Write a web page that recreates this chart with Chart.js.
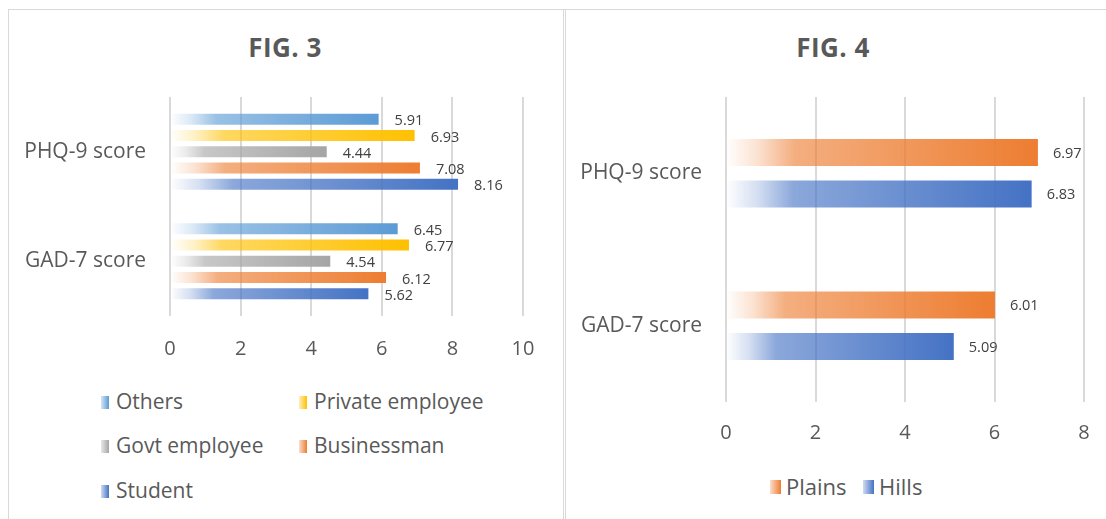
<!DOCTYPE html>
<html>
<head>
<meta charset="utf-8">
<script src="https://cdn.jsdelivr.net/npm/chart.js@4.4.1/dist/chart.umd.min.js"></script>
<style>
  html, body { margin:0; padding:0; background:#fff; }
  body { width:1106px; height:519px; position:relative; overflow:hidden; font-family:"Open Sans", sans-serif; }
  .frame { position:absolute; background:#d9d9d9; }
  .title { position:absolute; font-family:"Open Sans", sans-serif; font-weight:700; font-size:26px; color:#595959; letter-spacing:0.5px; text-align:center; line-height:30px; }
  .cv { position:absolute; }
  .leg { position:absolute; color:#595959; line-height:24px; white-space:nowrap; }
  .leg i { position:absolute; }
</style>
</head>
<body>
<div class="frame" style="left:8px; top:9px; width:1098px; height:1px;"></div>
<div class="frame" style="left:8px; top:9px; width:1px; height:510px;"></div>
<div class="frame" style="left:563px; top:9px; width:1px; height:510px;"></div>
<div class="frame" style="left:565px; top:9px; width:1px; height:510px;"></div>

<div class="title" style="left:185px; top:32px; width:200px;">FIG. 3</div>
<div class="title" style="left:733px; top:32px; width:200px;">FIG. 4</div>

<div class="cv" style="left:0px; top:0px; width:564px; height:376px;"><canvas id="c1"></canvas></div>
<div class="cv" style="left:564px; top:0px; width:542px; height:462px;"><canvas id="c2"></canvas></div>

<div id="leg1"></div>
<div id="leg2"></div>

<script>
// ---------- data ----------
const categories = ["PHQ-9 score", "GAD-7 score"];

const fig3Series = ["Others", "Private employee", "Govt employee", "Businessman", "Student"];
const others = [5.91, 6.45];
const privateEmployee = [6.93, 6.77];
const govtEmployee = [4.44, 4.54];
const businessman = [7.08, 6.12];
const student = [8.16, 5.62];
const fig3Ticks = [0, 2, 4, 6, 8, 10];

const fig4Series = ["Plains", "Hills"];
const plains = [6.97, 6.01];
const hills = [6.83, 5.09];
const fig4Ticks = [0, 2, 4, 6, 8];

// ---------- styling helpers ----------
const COL = {
  blueLight: "#5B9BD5", gold: "#FFC000", gray: "#A5A5A5", orange: "#ED7D31", blue: "#4472C4"
};
function rgba(hex, a) {
  const n = parseInt(hex.slice(1), 16);
  return `rgba(${(n >> 16) & 255},${(n >> 8) & 255},${n & 255},${a})`;
}
function gradFill(hex) {
  return (ctx) => {
    const chart = ctx.chart;
    if (!chart.chartArea || ctx.type !== 'data') return hex;
    const xs = chart.scales.x;
    const x0 = xs.getPixelForValue(0);
    const x1 = xs.getPixelForValue(ctx.raw);
    if (!isFinite(x0) || !isFinite(x1) || x1 - x0 < 1) return hex;
    const g = chart.ctx.createLinearGradient(x0, 0, x1, 0);
    g.addColorStop(0, rgba(hex, 0.0));
    g.addColorStop(0.1, rgba(hex, 0.22));
    g.addColorStop(0.22, rgba(hex, 0.62));
    g.addColorStop(1, rgba(hex, 1));
    return g;
  };
}
function makeDataset(label, data, hex, cp, bp) {
  return {
    label, data,
    backgroundColor: gradFill(hex),
    borderWidth: 0,
    categoryPercentage: cp,
    barPercentage: bp
  };
}

const valueLabels = {
  id: 'valueLabels',
  afterDatasetsDraw(chart, args, opts) {
    const ctx = chart.ctx;
    ctx.save();
    ctx.font = opts.font;
    ctx.fillStyle = opts.color;
    ctx.textAlign = 'left';
    ctx.textBaseline = 'middle';
    chart.data.datasets.forEach((ds, i) => {
      const meta = chart.getDatasetMeta(i);
      meta.data.forEach((bar, j) => {
        ctx.fillText(ds.data[j].toFixed(2), bar.x + opts.offset, bar.y + opts.dy);
      });
    });
    ctx.restore();
  }
};

function baseOptions(ticks, yWidth, xHeight, tickLen, padRight, padTop, labelPad) {
  return {
    indexAxis: 'y',
    responsive: true,
    maintainAspectRatio: false,
    animation: false,
    events: [],
    layout: { padding: { left: 0, right: padRight, top: padTop, bottom: 0 } },
    plugins: {
      legend: { display: false },
      title: { display: false },
      tooltip: { enabled: false }
    },
    scales: {
      x: {
        min: ticks[0], max: ticks[ticks.length - 1],
        afterBuildTicks: (s) => { s.ticks = ticks.map(v => ({ value: v })); },
        afterFit: (s) => { s.height = xHeight; },
        border: { display: false },
        grid: { color: '#d9d9d9', lineWidth: 2, drawTicks: true, tickLength: tickLen, tickColor: 'rgba(0,0,0,0)' },
        ticks: { padding: 2, color: '#595959', font: { family: 'Open Sans', size: 20 } }
      },
      y: {
        afterFit: (s) => { s.width = yWidth; },
        border: { display: false },
        grid: { display: false, drawTicks: false },
        ticks: { padding: labelPad, color: '#595959', font: { family: 'Open Sans', size: 21 } }
      }
    }
  };
}

// ---------- FIG. 3 ----------
const o1 = baseOptions(fig3Ticks, 170, 60, 19, 41, 97, 24);
o1.plugins.valueLabels = { font: '14.5px "Open Sans"', color: '#404040', offset: 16, dy: 2 };
new Chart(document.getElementById('c1'), {
  type: 'bar',
  data: {
    labels: categories,
    datasets: [
      makeDataset(fig3Series[0], others, COL.blueLight, 0.74, 0.68),
      makeDataset(fig3Series[1], privateEmployee, COL.gold, 0.74, 0.68),
      makeDataset(fig3Series[2], govtEmployee, COL.gray, 0.74, 0.68),
      makeDataset(fig3Series[3], businessman, COL.orange, 0.74, 0.68),
      makeDataset(fig3Series[4], student, COL.blue, 0.74, 0.68)
    ]
  },
  options: o1,
  plugins: [valueLabels]
});

// ---------- FIG. 4 ----------
const o2 = baseOptions(fig4Ticks, 162, 60, 17, 22, 97, 24);
o2.plugins.valueLabels = { font: '14.5px "Open Sans"', color: '#404040', offset: 15, dy: 1 };
new Chart(document.getElementById('c2'), {
  type: 'bar',
  data: {
    labels: categories,
    datasets: [
      makeDataset(fig4Series[0], plains, COL.orange, 0.546, 0.65),
      makeDataset(fig4Series[1], hills, COL.blue, 0.546, 0.65)
    ]
  },
  options: o2,
  plugins: [valueLabels]
});

// ---------- HTML legends ----------
function legendItem(parent, text, hex, left, top, size, mw, mh, gap) {
  const d = document.createElement('div');
  d.className = 'leg';
  d.style.left = left + 'px';
  d.style.top = top + 'px';
  d.style.fontSize = size + 'px';
  d.style.paddingLeft = (mw + gap) + 'px';
  const m = document.createElement('i');
  m.style.left = '0px';
  m.style.width = mw + 'px';
  m.style.height = mh + 'px';
  m.style.top = (12 - mh / 2 + 1) + 'px';
  m.style.background = `linear-gradient(to right, ${rgba(hex, 0.25)}, ${hex})`;
  d.appendChild(m);
  d.appendChild(document.createTextNode(text));
  parent.appendChild(d);
}
const leg1 = document.getElementById('leg1');
const fig3Colors = [COL.blueLight, COL.gold, COL.gray, COL.orange, COL.blue];
const pos1 = [[101, 389], [299, 389], [101, 433], [299, 433], [101, 478]];
fig3Series.forEach((s, i) => legendItem(leg1, s, fig3Colors[i], pos1[i][0], pos1[i][1], 21, 8, 13, 7));
const leg2 = document.getElementById('leg2');
legendItem(leg2, fig4Series[0], COL.orange, 770, 474, 22, 11, 14, 5);
legendItem(leg2, fig4Series[1], COL.blue, 863, 474, 22, 11, 14, 5);
</script>
</body>
</html>
